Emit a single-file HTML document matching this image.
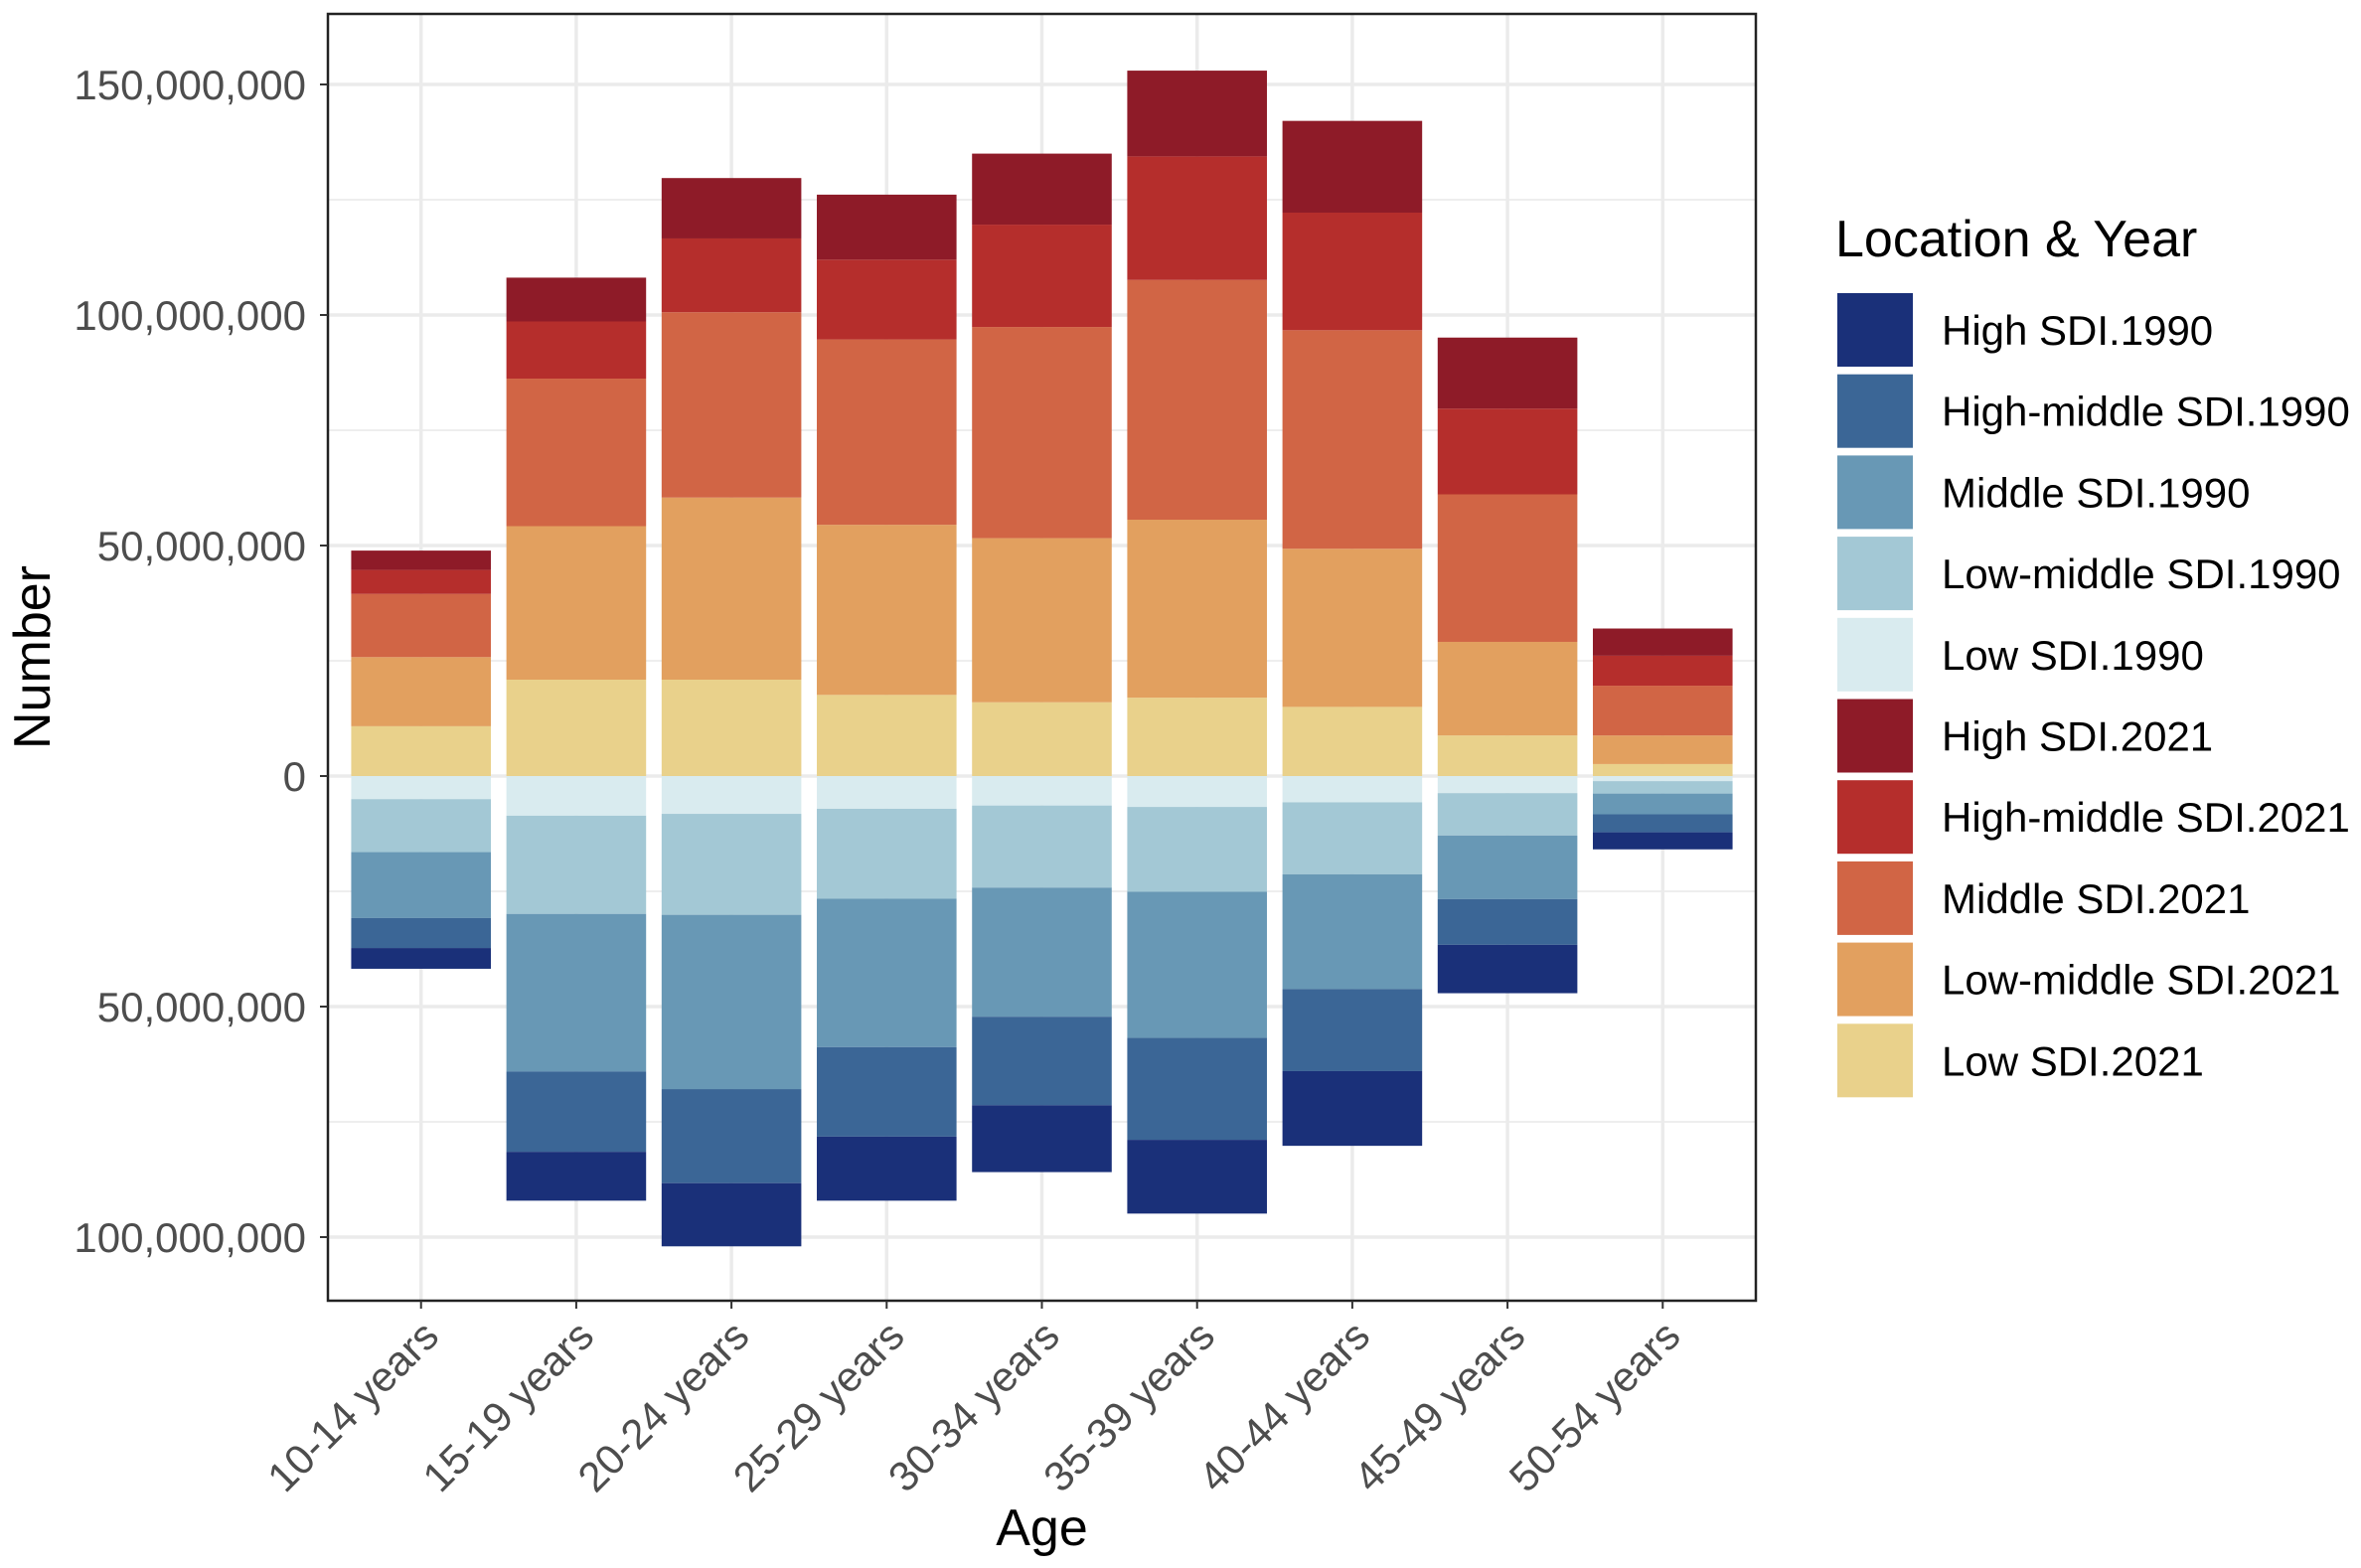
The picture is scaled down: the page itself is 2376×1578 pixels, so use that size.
<!DOCTYPE html>
<html><head><meta charset="utf-8"><style>
html,body{margin:0;padding:0;background:#fff}
svg{display:block;font-family:"Liberation Sans",Arial,sans-serif}
</style></head><body>
<svg id="chart" width="2376" height="1578" viewBox="0 0 2376 1578" xmlns="http://www.w3.org/2000/svg"></svg>
<script>
const categories=["10-14 years","15-19 years","20-24 years","25-29 years","30-34 years","35-39 years","40-44 years","45-49 years","50-54 years"];
// 2021 series (positive), millions
const low2021=[10.8,20.9,20.9,17.6,16.0,17.0,15.0,8.8,2.6];
const lowMid2021=[15.0,33.3,39.5,36.9,35.6,38.6,34.3,20.3,6.2];
const middle2021=[13.7,32.0,40.2,40.2,45.8,52.0,47.4,32.0,10.8];
const highMid2021=[5.2,12.4,16.0,17.3,22.2,26.8,25.5,18.6,6.5];
const high2021=[4.2,9.5,13.1,14.1,15.4,18.6,19.9,15.4,5.9];
// 1990 series (plotted downward), millions
const low1990=[5.0,8.6,8.2,7.1,6.4,6.7,5.7,3.7,1.1];
const lowMid1990=[11.5,21.3,21.9,19.5,17.8,18.4,15.6,9.2,2.7];
const middle1990=[14.3,34.2,37.8,32.2,28.0,31.7,24.9,13.8,4.5];
const highMid1990=[6.5,17.4,20.4,19.4,19.2,22.1,17.8,9.9,3.9];
const high1990=[4.5,10.6,13.7,13.9,14.5,16.0,16.2,10.5,3.7];
const yTicks=[150,100,50,0,-50,-100];
const yTickLabels=["150,000,000","100,000,000","50,000,000","0","50,000,000","100,000,000"];
const legendLabels=["High SDI.1990","High-middle SDI.1990","Middle SDI.1990","Low-middle SDI.1990","Low SDI.1990","High SDI.2021","High-middle SDI.2021","Middle SDI.2021","Low-middle SDI.2021","Low SDI.2021"];

const C={h90:"#1a3079",hm90:"#3b6696",m90:"#6898b5",lm90:"#a3c8d5",l90:"#d9ebef",h21:"#8e1b28",hm21:"#b52e2c",m21:"#d16545",lm21:"#e2a05f",l21:"#e9d18b"};
const legendColors=[C.h90,C.hm90,C.m90,C.lm90,C.l90,C.h21,C.hm21,C.m21,C.lm21,C.l21];
const P={l:330,r:1767,t:14,b:1309};
const y0=781, pxPer=232/50;
const y=v=>y0-v*pxPer;
const step=(P.r-P.l)/9.2;
const x=i=>P.l+(i+0.6)*step;
const bw=step*0.9;
const svg=document.getElementById('chart');
const NS="http://www.w3.org/2000/svg";
function mk(tag,attrs,parent){const e=document.createElementNS(NS,tag);for(const k in attrs)e.setAttribute(k,attrs[k]);(parent||svg).appendChild(e);return e;}

// grid
const grid=mk('g',{});


for(let v=-125;v<=175;v+=25){const yy=y(v);if(yy<P.t||yy>P.b)continue;
 mk('line',{x1:P.l,x2:P.r,y1:yy,y2:yy,stroke:"#ebebeb","stroke-width":(v%50===0)?3.5:1.8},grid);}
categories.forEach((c,i)=>mk('line',{x1:x(i),x2:x(i),y1:P.t,y2:P.b,stroke:"#ebebeb","stroke-width":3.5},grid));

// bars
const pos=[[low2021,C.l21,'low-2021'],[lowMid2021,C.lm21,'low-middle-2021'],[middle2021,C.m21,'middle-2021'],[highMid2021,C.hm21,'high-middle-2021'],[high2021,C.h21,'high-2021']];
const neg=[[low1990,C.l90,'low-1990'],[lowMid1990,C.lm90,'low-middle-1990'],[middle1990,C.m90,'middle-1990'],[highMid1990,C.hm90,'high-middle-1990'],[high1990,C.h90,'high-1990']];
categories.forEach((c,i)=>{
 let acc=0;
 pos.forEach(([arr,col,nm])=>{const r=mk('rect',{x:x(i)-bw/2,y:y(acc+arr[i]),width:bw,height:arr[i]*pxPer,fill:col});
  
  
  acc+=arr[i];});
 acc=0;
 neg.forEach(([arr,col,nm])=>{const r=mk('rect',{x:x(i)-bw/2,y:y(-acc),width:bw,height:arr[i]*pxPer,fill:col});
  
  
  acc+=arr[i];});
});
const border=mk('rect',{x:P.l,y:P.t,width:P.r-P.l,height:P.b-P.t,fill:"none",stroke:"#222","stroke-width":2.5});



// y ticks
yTicks.forEach((v,k)=>{
 mk('line',{x1:P.l-8,x2:P.l,y1:y(v),y2:y(v),stroke:"#333","stroke-width":2});
 const t=mk('text',{x:P.l-22,y:y(v)+15,"text-anchor":"end","font-size":42,fill:"#4d4d4d"});
 t.textContent=yTickLabels[k];
 
 
});
// x ticks
categories.forEach((c,i)=>{
 mk('line',{x1:x(i),x2:x(i),y1:P.b,y2:P.b+8,stroke:"#333","stroke-width":2});
 const t=mk('text',{x:0,y:0,"text-anchor":"end","font-size":42,fill:"#4d4d4d",transform:`translate(${x(i)+20},${P.b+38}) rotate(-45)`});
 t.textContent=c;
 
 
});
const yt=mk('text',{x:0,y:0,"text-anchor":"middle","font-size":52,fill:"#000",transform:`translate(50,${(P.t+P.b)/2}) rotate(-90)`});
yt.textContent="Number";


const xt=mk('text',{x:(P.l+P.r)/2,y:1555,"text-anchor":"middle","font-size":52,fill:"#000"});
xt.textContent="Age";



// legend
const lt=mk('text',{x:1847,y:258,"font-size":52,fill:"#000"});
lt.textContent="Location & Year";


legendLabels.forEach((lab,k)=>{
 const g=mk('g',{});
 
 
 const yy=295+k*81.7;
 mk('rect',{x:1849,y:yy,width:76,height:74,fill:legendColors[k]},g);
 const t=mk('text',{x:1954,y:yy+52,"font-size":42,fill:"#000"},g);
 t.textContent=lab;
});
</script>
</body></html>
